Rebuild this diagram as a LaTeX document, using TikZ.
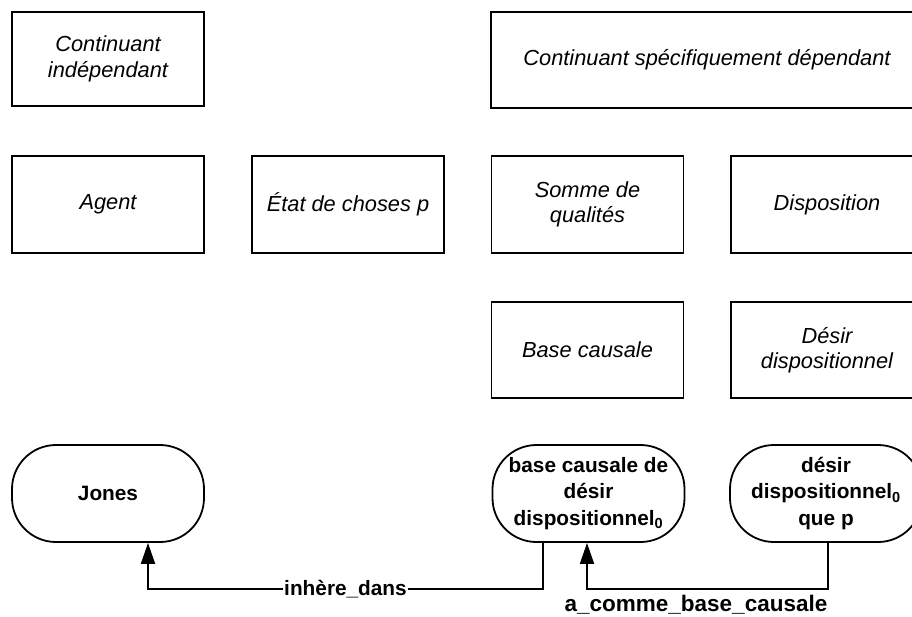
\documentclass[tikz,border=0pt]{standalone}
\usepackage{fontspec}
\setmainfont{Liberation Sans}
\usetikzlibrary{arrows.meta}
\begin{document}
\begin{tikzpicture}[x=1pt,y=-1pt,
  every node/.style={font=\fontsize{20.8}{26}\selectfont, inner sep=0pt, align=center},
  box/.style={draw, line width=1.8pt, minimum width=192pt, minimum height=96pt,
    font=\fontsize{21.8}{25.5}\selectfont\itshape},
  roundbox/.style={draw, line width=1.8pt, minimum width=192pt, minimum height=97pt,
    rounded corners=44pt, font=\fontsize{20.8}{26.3}\selectfont\bfseries},
  link/.style={line width=1.8pt, -{Triangle[length=21pt,width=14pt]}},
  linklabel/.style={font=\fontsize{20.8}{26}\selectfont\bfseries, fill=white, inner xsep=1pt}
]
\useasboundingbox (0,0) rectangle (912,616);
\clip (0,0) rectangle (912,616);

% top row
\node[box, minimum height=94pt] (ci) at (108,59) {Continuant\\indépendant};
\node[box, minimum width=432pt] (csd) at (707,60) {Continuant spécifiquement dépendant};

% second row
\node[box, minimum height=97pt] (agent) at (108,204.5) {Agent};
\node[box, minimum height=97pt] (etat) at (348,204.5) {État de choses p};
\node[box, minimum height=97pt] (somme) at (587.5,204.5) {Somme de\\qualités};
\node[box, minimum height=97pt] (dispo) at (827,204.5) {Disposition};

% third row
\node[box] (base) at (587.5,350) {Base causale};
\node[box] (desir) at (827,350) {Désir\\dispositionnel};

% instances
\node[roundbox] (jones) at (108,493.5) {Jones};
\node[roundbox] (bcd) at (588.5,493.5) {base causale de\\désir\\dispositionnel\textsubscript{0}};
\node[roundbox] (ddp) at (826,493.5) {désir\\dispositionnel\textsubscript{0}\\que p};

% connector corners
\coordinate (i1) at (543,589);
\coordinate (i2) at (148,589);
\coordinate (a1) at (828,589);
\coordinate (a2) at (587,589);

\draw[link] (bcd.south -| i1) -- (i1) -- node[linklabel, pos=0.5] {inhère\_dans} (i2) -- (jones.south -| i2);
\draw[link] (ddp.south -| a1) -- (a1) -- (a2) -- (bcd.south -| a2);
\node[linklabel, fill=none, font=\fontsize{22.5}{26}\selectfont\bfseries] (albl) at (696,605) {a\_comme\_base\_causale};
\end{tikzpicture}
\end{document}
